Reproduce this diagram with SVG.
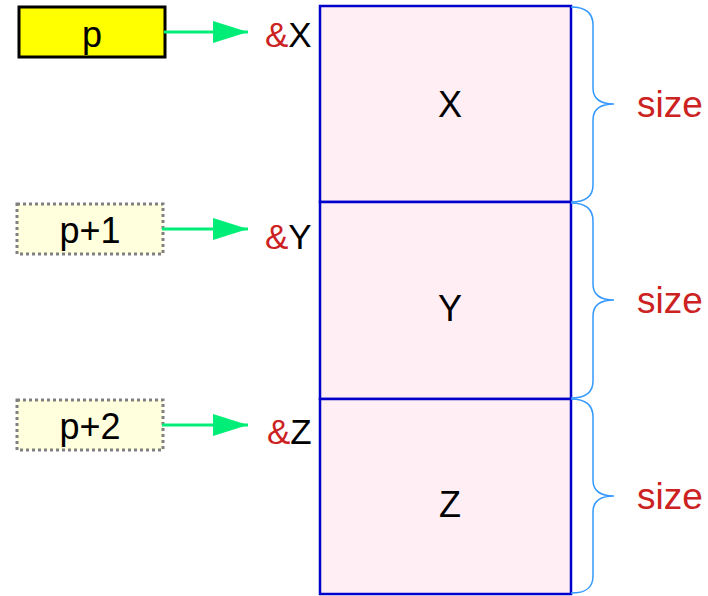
<svg xmlns="http://www.w3.org/2000/svg" width="708" height="596" viewBox="0 0 708 596">
<style>
text{font-family:"Liberation Sans",Arial,sans-serif;}
.lbl{font-size:36px;fill:#000;text-anchor:middle;dominant-baseline:central;}
.amp{fill:#cc2222;}
.size{font-size:37px;fill:#cc2222;dominant-baseline:central;}
.ptr{fill:#ffffdd;stroke:#808080;stroke-width:3;stroke-dasharray:3 3;}
.cell{fill:#ffeef3;stroke:#0000cc;stroke-width:2.5;}
.brace{fill:none;stroke:#3399ff;stroke-width:1.5;}
.conn{stroke:#00ee77;stroke-width:3;fill:none;}
</style>
<defs>
<marker id="ah" markerUnits="userSpaceOnUse" markerWidth="36" markerHeight="24" refX="35" refY="12" orient="auto">
<path d="M0,1 L35,12 L0,23 Z" fill="#00ee77"/>
</marker>
</defs>
<g id="memory">
<rect class="cell" x="320" y="6" width="251" height="196"/>
<rect class="cell" x="320" y="202" width="251" height="197"/>
<rect class="cell" x="320" y="399" width="251" height="195"/>
<text class="lbl" x="450" y="104">X</text>
<text class="lbl" x="450" y="308">Y</text>
<text class="lbl" x="450" y="504">Z</text>
</g>
<g id="p">
<rect x="19" y="7" width="146" height="50" fill="#ffff00" stroke="#000" stroke-width="3"/>
<text class="lbl" x="92" y="34">p</text>
</g>
<g id="p1">
<rect class="ptr" x="17" y="204" width="146" height="50"/>
<text class="lbl" x="90" y="230">p+1</text>
</g>
<g id="p2">
<rect class="ptr" x="17" y="400" width="146" height="50"/>
<text class="lbl" x="90" y="426">p+2</text>
</g>
<g id="addrs" font-size="35" dominant-baseline="central">
<text x="265" y="34"><tspan class="amp">&amp;</tspan>X</text>
<text x="265" y="236"><tspan class="amp">&amp;</tspan>Y</text>
<text x="267" y="431"><tspan class="amp">&amp;</tspan>Z</text>
</g>
<g id="connectors">
<line class="conn" x1="164" y1="32" x2="248" y2="32" marker-end="url(#ah)"/>
<line class="conn" x1="162" y1="229" x2="248" y2="229" marker-end="url(#ah)"/>
<line class="conn" x1="162" y1="425" x2="248" y2="425" marker-end="url(#ah)"/>
</g>
<g id="braces">
<path class="brace" d="M571,7 C586,7 593,13 593,25 L593,88 C593,98 600,104 614,104 C600,104 593,110 593,120 L593,185 C593,196 586,202 571,202"/>
<path class="brace" d="M571,203 C586,203 593,209 593,221 L593,284 C593,294 600,300 614,300 C600,300 593,306 593,316 L593,381 C593,392 586,398 571,398"/>
<path class="brace" d="M571,399 C586,399 593,405 593,417 L593,480 C593,490 600,496 614,496 C600,496 593,502 593,512 L593,576 C593,588 586,593 571,593"/>
<text class="size" x="637" y="104">size</text>
<text class="size" x="637" y="300">size</text>
<text class="size" x="637" y="496">size</text>
</g>
</svg>
